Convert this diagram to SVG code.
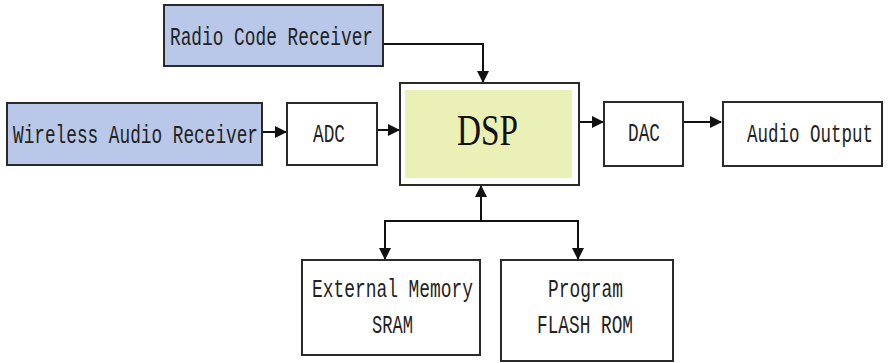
<svg xmlns="http://www.w3.org/2000/svg" width="889" height="363" viewBox="0 0 889 363">
<defs>
<style>
.box{fill:#ffffff;stroke:#2a2a2a;stroke-width:2}
.blue{fill:#b9c8e8}
.t{font-family:"Liberation Mono","Courier New",monospace;font-size:18px;fill:#222}
.d{font-family:"Liberation Serif","Times New Roman",serif;font-size:44px;fill:#111}
.c{fill:none;stroke:#111;stroke-width:2}
</style>
<marker id="ah" markerWidth="12" markerHeight="12" refX="11" refY="6" orient="auto" markerUnits="userSpaceOnUse">
<path d="M0,0 L12,6 L0,12 Z" fill="#111"/>
</marker>
</defs>
<rect width="889" height="363" fill="#ffffff"/>
<g id="connectors">
<path class="c" d="M383,44 H483 V82" marker-end="url(#ah)"/>
<path class="c" d="M262,132 H286" marker-end="url(#ah)"/>
<path class="c" d="M377,130 H399" marker-end="url(#ah)"/>
<path class="c" d="M579,122 H603" marker-end="url(#ah)"/>
<path class="c" d="M683,122 H721" marker-end="url(#ah)"/>
<path class="c" d="M481,221 V186" marker-end="url(#ah)"/>
<path class="c" d="M385,221 H578"/>
<path class="c" d="M385,220 V259" marker-end="url(#ah)"/>
<path class="c" d="M578,220 V259" marker-end="url(#ah)"/>
</g>
<g id="radio">
<rect class="box blue" x="164" y="5" width="219" height="61"/>
<text class="t" transform="translate(170,45) scale(1,1.4)" textLength="203" lengthAdjust="spacingAndGlyphs">Radio Code Receiver</text>
</g>
<g id="wireless">
<rect class="box blue" x="7" y="103" width="255" height="62"/>
<text class="t" transform="translate(13,143) scale(1,1.4)" textLength="245" lengthAdjust="spacingAndGlyphs">Wireless Audio Receiver</text>
</g>
<g id="adc">
<rect class="box" x="287" y="103" width="90" height="62"/>
<text class="t" transform="translate(313,142) scale(1,1.4)" textLength="32" lengthAdjust="spacingAndGlyphs">ADC</text>
</g>
<g id="dsp">
<rect class="box" x="400" y="83" width="179" height="102"/>
<rect x="405" y="90" width="167" height="88" fill="#ebf0b6"/>
<text class="d" x="457" y="145" textLength="61" lengthAdjust="spacingAndGlyphs">DSP</text>
</g>
<g id="dac">
<rect class="box" x="604" y="102" width="79" height="64"/>
<text class="t" transform="translate(628,141) scale(1,1.4)" textLength="32" lengthAdjust="spacingAndGlyphs">DAC</text>
</g>
<g id="audio-output">
<rect class="box" x="723" y="102" width="159" height="64"/>
<text class="t" transform="translate(747,142) scale(1,1.4)" textLength="126" lengthAdjust="spacingAndGlyphs">Audio Output</text>
</g>
<g id="sram">
<rect class="box" x="302" y="260" width="178" height="95"/>
<text class="t" transform="translate(312,297) scale(1,1.4)" textLength="161" lengthAdjust="spacingAndGlyphs">External Memory</text>
<text class="t" transform="translate(372,333) scale(1,1.4)" textLength="41" lengthAdjust="spacingAndGlyphs">SRAM</text>
</g>
<g id="flash">
<rect class="box" x="501" y="260" width="172" height="101"/>
<text class="t" transform="translate(548,297) scale(1,1.4)" textLength="75" lengthAdjust="spacingAndGlyphs">Program</text>
<text class="t" transform="translate(537,333) scale(1,1.4)" textLength="96" lengthAdjust="spacingAndGlyphs">FLASH ROM</text>
</g>
</svg>
